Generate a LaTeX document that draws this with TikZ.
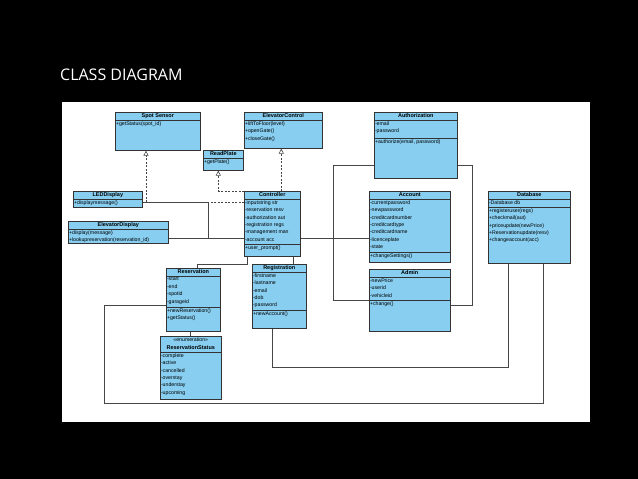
\documentclass[tikz,border=0pt]{standalone}
\usepackage{fontspec}
\setmainfont{Liberation Sans}
\newfontfamily\titlefont{Open Sans}
\usetikzlibrary{arrows.meta}
\definecolor{clsblue}{RGB}{135,206,240}
\definecolor{lnc}{RGB}{70,70,70}
\tikzset{
  cls/.style={draw=black!80, line width=0.6pt, fill=clsblue, rectangle, inner sep=0pt},
  ttl/.style={font=\fontsize{5.5}{6}\selectfont\bfseries, inner sep=0pt},
  txt/.style={font=\fontsize{5.2}{7.4}\selectfont, align=left, inner sep=0.8pt, anchor=north west},
  con/.style={draw=lnc, line width=0.6pt},
  real/.style={draw=lnc, line width=0.6pt, dashed, dash pattern=on 2pt off 1.5pt, -{Triangle[open, length=5pt, width=5pt, fill=white]}},
}
% name, x, y, w, h, title, divider offset, attrs, methods
\newcommand\umlbox[9]{%
  \node[cls, minimum width=#4pt, minimum height=#5pt, anchor=north west] (#1) at (#2,#3) {};
  \draw[black!80, line width=0.5pt] ([yshift=-8pt]#1.north west) -- ([yshift=-8pt]#1.north east);
  \draw[black!80, line width=0.5pt] ([yshift=-#7pt]#1.north west) -- ([yshift=-#7pt]#1.north east);
  \node[ttl] at ([yshift=-4pt]#1.north) {#6};
  \node[txt] at ([yshift=-8.6pt]#1.north west) {#8};
  \node[txt] at ([yshift=-#7pt-0.6pt]#1.north west) {#9};
}
\begin{document}
\begin{tikzpicture}[x=1pt,y=-1pt]
\useasboundingbox (0,0) rectangle (638,479);
\fill[black] (0,0) rectangle (638,479);
\fill[white] (62,102) rectangle (590,422);
\node[anchor=west, text=white, font=\titlefont\fontsize{16}{18}\selectfont, inner sep=0pt] (title) at (60,75) {CLASS DIAGRAM};

\umlbox{spot}{115}{112}{85}{38}{Spot Sensor}{8}{}{+getStatus(spot\_id)}
\umlbox{ec}{244}{112}{78}{36}{ElevatorControl}{8}{}{+liftToFloor(level)\\+openGate()\\+closeGate()}
\umlbox{rp}{203}{150}{40}{20}{ReadPlate}{8}{}{+getPlate()}
\umlbox{auth}{374}{112}{83}{66}{Authorization}{26}{-email\\-password}{+authorize(email, password)}
\umlbox{led}{73}{191}{69}{16}{LEDDisplay}{8}{}{+displaymessage()}
\umlbox{ed}{68}{221}{100}{22}{ElevatorDisplay}{8}{}{+display(message)\\+lookupreservation(reservation\_id)}
\umlbox{ctl}{244}{191}{56}{65}{Controller}{53}{-inputstring str\\-reservation resv\\-authorization aut\\-registration regs\\-management man\\-account acc}{+user\_prompt()}
\umlbox{acc}{369}{191}{81}{71}{Account}{61}{-currentpassword\\-newpassword\\-creditcardnumber\\-creditcardtype\\-creditcardname\\-licenceplate\\-state}{+changeSettings()}
\umlbox{db}{488}{191}{82}{72}{Database}{16}{-Database db}{+registeruser(regs)\\+checkmail(aut)\\+priceupdate(newPrice)\\+Reservationupdate(resv)\\+changeaccount(acc)}
\umlbox{res}{166}{268}{54}{63}{Reservation}{39}{-start\\-end\\-spotid\\-garageid}{+newReservation()\\+getStatus()}
\umlbox{reg}{252}{264}{54}{64}{Registration}{46}{-firstname\\-lastname\\-email\\-dob\\-password}{+newAccount()}
\umlbox{adm}{369}{269}{81}{62}{Admin}{31}{-newPrice\\-userid\\-vehicleid}{+change()}

% ReservationStatus enumeration
\node[cls, minimum width=61pt, minimum height=63pt, anchor=north west] (rs) at (160,336) {};
\draw[black!80, line width=0.5pt] ([yshift=-16pt]rs.north west) -- ([yshift=-16pt]rs.north east);
\node[font=\fontsize{5.2}{6}\selectfont, inner sep=0pt] at ([yshift=-4pt]rs.north) {<<enumeration>>};
\node[ttl] at ([yshift=-11.5pt]rs.north) {ReservationStatus};
\node[txt] at ([yshift=-16.6pt]rs.north west) {-complete\\-active\\-cancelled\\-overstay\\-understay\\-upcoming};

% realizations
\draw[real] ([yshift=-11pt]ctl.north west) -| ([xshift=31pt]spot.south west);
\draw[real] (ctl.north west) -| ([xshift=-5pt]rp.south);
\draw[real] ([xshift=9pt]ctl.north) -- ([xshift=9pt]ctl.north |- ec.south);

% associations
\draw[con] ([yshift=5pt]led.south east) -| ([xshift=40pt,yshift=-17pt]ed.north east);
\draw[con] ([yshift=-17pt]ed.north east) -- ([yshift=-47pt]ctl.north west);
\draw[con] ([yshift=-47pt]ctl.north east) -- ([yshift=-47pt]acc.north west);
\draw[con] ([yshift=-53pt]auth.north west) -| ([xshift=-36pt,yshift=-31pt]adm.north west) -- ([yshift=-31pt]adm.north west);
\draw[con] ([yshift=-53pt]auth.north east) -| ([xshift=22pt,yshift=-36pt]adm.north east) -- ([yshift=-36pt]adm.north east);
\draw[con] ([xshift=3pt]ctl.south west) -- ++(0,8) -| ([xshift=4pt]res.north);
\draw[con] ([xshift=-7pt]ctl.south east) -- ([xshift=-7pt]ctl.south east |- reg.north);
\draw[con] ([xshift=-3pt]res.south) -- ([xshift=-3pt]res.south |- rs.north);
\draw[con] ([xshift=-7pt]reg.south) |- ++(0,39) -| ([xshift=-21pt]db.south);
\draw[con] ([yshift=-37pt]res.north west) -| ([xshift=-62pt,yshift=-72pt]res.south west) -| ([xshift=14pt]db.south);
\end{tikzpicture}
\end{document}
